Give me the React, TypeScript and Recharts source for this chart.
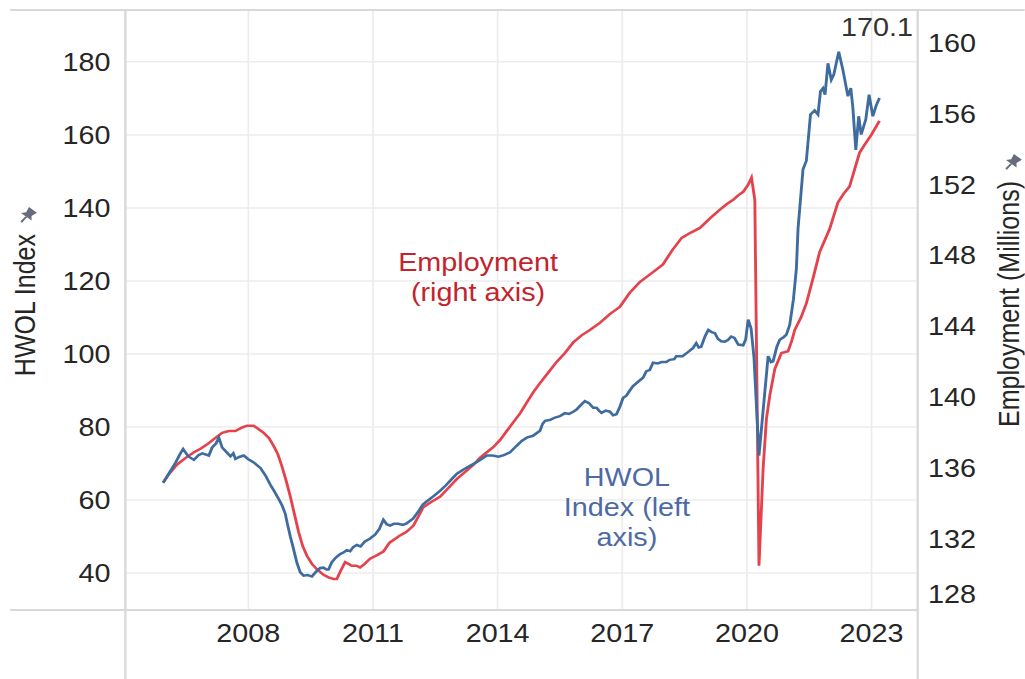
import * as React from "react"
import { LineChart, Line, XAxis, YAxis, CartesianGrid } from "recharts"

// HWOL index (left axis), decimal year
const hwolDates = [
  2005.95, 2006.1, 2006.25, 2006.35, 2006.43, 2006.55, 2006.69, 2006.8, 2006.89, 2007.05,
  2007.13, 2007.22, 2007.29, 2007.37, 2007.47, 2007.57, 2007.64, 2007.69, 2007.78, 2007.89,
  2008.0, 2008.13, 2008.29, 2008.41, 2008.53, 2008.63, 2008.73, 2008.81, 2008.89, 2008.95,
  2009.01, 2009.09, 2009.17, 2009.25, 2009.33, 2009.42, 2009.53, 2009.6, 2009.65, 2009.73,
  2009.81, 2009.88, 2009.93, 2010.01, 2010.1, 2010.21, 2010.3, 2010.37, 2010.45, 2010.53,
  2010.61, 2010.7, 2010.8, 2010.93, 2011.05, 2011.15, 2011.25, 2011.33, 2011.41, 2011.5,
  2011.61, 2011.72, 2011.81, 2011.97, 2012.1, 2012.2, 2012.29, 2012.45, 2012.62, 2012.75,
  2012.9, 2013.02, 2013.2, 2013.42, 2013.55, 2013.74, 2013.88, 2014.02, 2014.15, 2014.3,
  2014.45, 2014.58, 2014.7, 2014.85, 2015.02, 2015.08, 2015.14, 2015.25, 2015.38, 2015.5,
  2015.62, 2015.72, 2015.82, 2015.9, 2016.0, 2016.1, 2016.2, 2016.3, 2016.38, 2016.44,
  2016.5, 2016.6, 2016.7, 2016.78, 2016.86, 2016.94, 2017.02, 2017.1, 2017.18, 2017.26,
  2017.38, 2017.5, 2017.58, 2017.66, 2017.74, 2017.85, 2017.95, 2018.06, 2018.14, 2018.25,
  2018.3, 2018.45, 2018.58, 2018.7, 2018.78, 2018.84, 2018.9, 2018.99, 2019.07, 2019.15,
  2019.23, 2019.3, 2019.38, 2019.47, 2019.55, 2019.62, 2019.7, 2019.79, 2019.91, 2019.97,
  2020.03, 2020.1, 2020.17, 2020.29, 2020.51, 2020.58, 2020.63, 2020.72, 2020.79, 2020.88,
  2020.95, 2021.03, 2021.12, 2021.19, 2021.23, 2021.35, 2021.43, 2021.53, 2021.63, 2021.71,
  2021.77, 2021.83, 2021.88, 2021.95, 2022.03, 2022.09, 2022.21, 2022.31, 2022.43, 2022.5,
  2022.55, 2022.62, 2022.69, 2022.75, 2022.86, 2022.94, 2023.03, 2023.11, 2023.19,
]
const hwolValues = [
  64.7, 67.5, 70.3, 72.5, 74.0, 72.0, 71.0, 72.3, 72.8, 72.2,
  74.4, 75.5, 77.1, 74.4, 73.2, 72.0, 72.8, 71.3, 71.8, 72.2,
  71.2, 70.3, 68.8, 66.8, 64.2, 62.3, 60.3, 58.6, 56.2, 53.0,
  50.0, 46.5, 42.8, 40.2, 39.3, 39.5, 39.1, 40.0, 40.6, 41.4,
  41.5, 41.0, 41.0, 43.0, 44.2, 45.2, 45.7, 46.3, 46.0, 47.2,
  47.7, 47.3, 48.6, 49.5, 50.5, 52.0, 54.6, 53.4, 53.0, 53.5,
  53.5, 53.2, 53.6, 55.0, 57.0, 58.8, 59.6, 61.0, 62.6, 64.0,
  65.8, 67.2, 68.5, 69.9, 70.8, 72.2, 72.2, 71.9, 72.3, 73.1,
  74.8, 76.2, 77.1, 77.6, 79.0, 80.8, 81.7, 81.9, 82.6, 83.0,
  83.8, 83.6, 84.2, 84.8, 86.0, 87.1, 86.5, 85.3, 85.3, 84.5,
  83.9, 84.5, 84.2, 83.2, 83.5, 85.5, 88.0, 88.6, 90.0, 91.2,
  92.4, 93.5, 95.3, 95.6, 97.6, 97.4, 97.8, 97.8, 98.4, 98.6,
  99.4, 99.4, 100.5, 101.6, 103.0, 101.8, 102.0, 104.8, 106.6, 106.0,
  105.7, 104.2, 103.5, 103.4, 103.9, 104.8, 104.4, 102.6, 102.4, 104.0,
  109.4, 107.0, 99.0, 72.2, 99.4, 97.8, 98.0, 102.0, 103.9, 104.6,
  105.3, 108.0, 115.0, 123.4, 134.3, 150.6, 152.9, 165.6, 166.7, 165.6,
  171.9, 172.8, 171.0, 179.6, 175.1, 176.5, 182.8, 177.8, 170.6, 172.8,
  167.4, 155.9, 165.1, 160.1, 164.2, 171.0, 165.1, 168.0, 170.1,
]

// Employment in millions (right axis)
const empDates = [
  2005.95, 2006.1, 2006.28, 2006.5, 2006.69, 2006.85, 2007.01, 2007.2, 2007.37, 2007.53,
  2007.69, 2007.85, 2007.97, 2008.13, 2008.25, 2008.37, 2008.5, 2008.61, 2008.71, 2008.81,
  2008.91, 2009.01, 2009.11, 2009.21, 2009.31, 2009.41, 2009.53, 2009.65, 2009.8, 2009.93,
  2010.05, 2010.13, 2010.22, 2010.33, 2010.41, 2010.49, 2010.6, 2010.69, 2010.8, 2010.93,
  2011.1, 2011.25, 2011.4, 2011.65, 2011.8, 2011.97, 2012.1, 2012.21, 2012.4, 2012.62,
  2012.82, 2013.02, 2013.22, 2013.42, 2013.58, 2013.74, 2013.9, 2014.06, 2014.22, 2014.38,
  2014.54, 2014.7, 2014.86, 2015.02, 2015.22, 2015.42, 2015.62, 2015.82, 2016.02, 2016.22,
  2016.46, 2016.7, 2016.94, 2017.18, 2017.42, 2017.7, 2017.98, 2018.2, 2018.43, 2018.65,
  2018.87, 2019.11, 2019.35, 2019.51, 2019.67, 2019.79, 2019.91, 2020.03, 2020.11, 2020.19,
  2020.29, 2020.39, 2020.47, 2020.55, 2020.67, 2020.83, 2020.99, 2021.08, 2021.15, 2021.3,
  2021.43, 2021.6, 2021.75, 2021.99, 2022.19, 2022.33, 2022.47, 2022.59, 2022.71, 2022.83,
  2022.99, 2023.19,
]
const empValues = [
  135.2, 135.7, 136.2, 136.6, 136.9, 137.1, 137.35, 137.7, 138.0, 138.1,
  138.1, 138.3, 138.4, 138.4, 138.2, 138.0, 137.7, 137.26, 136.8, 136.1,
  135.3, 134.4, 133.4, 132.4, 131.6, 131.06, 130.6, 130.3, 130.0, 129.84,
  129.75, 129.75, 130.2, 130.7, 130.6, 130.5, 130.5, 130.4, 130.6, 130.9,
  131.1, 131.3, 131.8, 132.2, 132.4, 132.75, 133.3, 133.8, 134.1, 134.4,
  134.9, 135.4, 135.8, 136.2, 136.6, 136.9, 137.2, 137.6, 138.1, 138.6,
  139.1, 139.7, 140.3, 140.8, 141.4, 142.0, 142.5, 143.1, 143.5, 143.8,
  144.2, 144.7, 145.1, 145.9, 146.5, 147.0, 147.5, 148.3, 149.0, 149.3,
  149.56, 150.1, 150.6, 150.9, 151.15, 151.4, 151.6, 152.0, 152.4, 151.15,
  130.5, 136.0, 138.8, 140.1, 141.6, 142.5, 142.6, 143.2, 143.8, 144.5,
  145.3, 146.8, 148.2, 149.5, 151.0, 151.5, 151.9, 152.85, 153.8, 154.25,
  154.8, 155.6,
]

const yearTicks = [2008, 2011, 2014, 2017, 2020, 2023]
const hwolTicks = [40, 60, 80, 100, 120, 140, 160, 180]
const empTicks = [128, 132, 136, 140, 144, 148, 152, 156, 160]
const lastLabel = "170.1"

const hwolData = hwolDates.map((t, i) => ({ t, v: hwolValues[i] }))
const empData = empDates.map((t, i) => ({ t, v: empValues[i] }))

// the source screenshot is stretched sideways, so the chart is drawn narrower and scaled
const STRETCH = 1.15
const W = 891
const H = 679
const FONT = "'Liberation Sans', Arial, Helvetica, sans-serif"
const BLUE = "#3f6c9f"
const RED = "#e4434e"
const FRAME = "#d9d9d9"

const tickStyle = { fill: "#262626", fontSize: 25, fontFamily: FONT }

function Pin({ x, y }: { x: number; y: number }) {
  return (
    <g transform={`translate(${x},${y}) rotate(40)`} fill="#666c7d">
      <path d="M-4.5,-8 L4.5,-8 L3,-2.5 L6,1 L-6,1 L-3,-2.5 Z" />
      <rect x={-0.9} y={1} width={1.8} height={7} />
    </g>
  )
}

function LeftTitle() {
  return (
    <g>
      <text
        x={21.7}
        y={234}
        dy="0.35em"
        transform="rotate(-90, 21.7, 234)"
        textAnchor="end"
        fontSize={25}
        fontFamily={FONT}
        fill="#262626"
      >
        HWOL Index
      </text>
      <Pin x={23.5} y={216} />
    </g>
  )
}

function RightTitle() {
  return (
    <g>
      <text
        x={877.5}
        y={181}
        dy="0.35em"
        transform="rotate(-90, 877.5, 181)"
        textAnchor="end"
        fontSize={25}
        fontFamily={FONT}
        fill="#262626"
      >
        Employment (Millions)
      </text>
      <Pin x={880} y={163} />
    </g>
  )
}

function RightTick(props: any) {
  const { x, y, payload } = props
  // bottom label sits just above the frame line
  const ty = Math.min(y, 594)
  return (
    <text x={x} y={ty} dy="0.355em" textAnchor="start" {...tickStyle}>
      {payload.value}
    </text>
  )
}

const frame = (style: React.CSSProperties) => (
  <div style={{ position: "absolute", background: FRAME, ...style }} />
)

const note: React.CSSProperties = {
  position: "absolute",
  width: 220,
  textAlign: "center",
  fontSize: 25,
  lineHeight: "30px",
  fontFamily: FONT,
  whiteSpace: "nowrap",
}

export default function App() {
  return (
    <div
      style={{
        position: "absolute",
        left: 0,
        top: 0,
        width: 1025,
        height: H,
        overflow: "hidden",
        background: "#fff",
      }}
    >
      <div
        style={{
          position: "relative",
          width: W,
          height: H,
          transform: `scaleX(${STRETCH})`,
          transformOrigin: "0 0",
        }}
      >
        <LineChart width={W} height={H} margin={{ top: 10, right: 0, bottom: 0, left: 0 }}>
          <CartesianGrid yAxisId="left" stroke="#ececec" strokeWidth={1.5} />
          <XAxis
            dataKey="t"
            type="number"
            domain={[2005.04, 2024.11]}
            ticks={yearTicks}
            allowDataOverflow
            axisLine={false}
            tickLine={false}
            tickSize={0}
            tickMargin={14}
            height={69}
            tick={tickStyle}
          />
          <YAxis
            yAxisId="left"
            domain={[29.9, 194.2]}
            ticks={hwolTicks}
            allowDataOverflow
            axisLine={false}
            tickLine={false}
            tickSize={0}
            tickMargin={13}
            width={109}
            tick={tickStyle}
            label={<LeftTitle />}
          />
          <YAxis
            yAxisId="right"
            orientation="right"
            domain={[128, 161.86]}
            ticks={empTicks}
            allowDataOverflow
            axisLine={false}
            tickLine={false}
            tickSize={0}
            tickMargin={9}
            width={93}
            tick={<RightTick />}
            label={<RightTitle />}
          />
          <Line
            data={empData}
            dataKey="v"
            yAxisId="right"
            type="linear"
            stroke={RED}
            strokeWidth={2.5}
            dot={false}
            isAnimationActive={false}
          />
          <Line
            data={hwolData}
            dataKey="v"
            yAxisId="left"
            type="linear"
            stroke={BLUE}
            strokeWidth={2.5}
            dot={false}
            isAnimationActive={false}
          />
        </LineChart>

        {frame({ left: 8.7, top: 9, width: W - 8.7, height: 2 })}
        {frame({ left: 108, top: 10, width: 2, height: H - 10 })}
        {frame({ left: 8.7, top: 609, width: 798 - 8.7, height: 2 })}
        {frame({ left: 797, top: 10, width: 2, height: H - 10 })}

        <div style={{ ...note, left: 415.7 - 110, top: 247, color: "#c3242c" }}>
          Employment
          <br />
          (right axis)
        </div>
        <div style={{ ...note, left: 545.2 - 110, top: 462, color: "#4d6aa6" }}>
          HWOL
          <br />
          Index (left
          <br />
          axis)
        </div>
        <div style={{ ...note, width: 100, left: 762.6 - 50, top: 12, color: "#333" }}>
          {lastLabel}
        </div>
      </div>
    </div>
  )
}
